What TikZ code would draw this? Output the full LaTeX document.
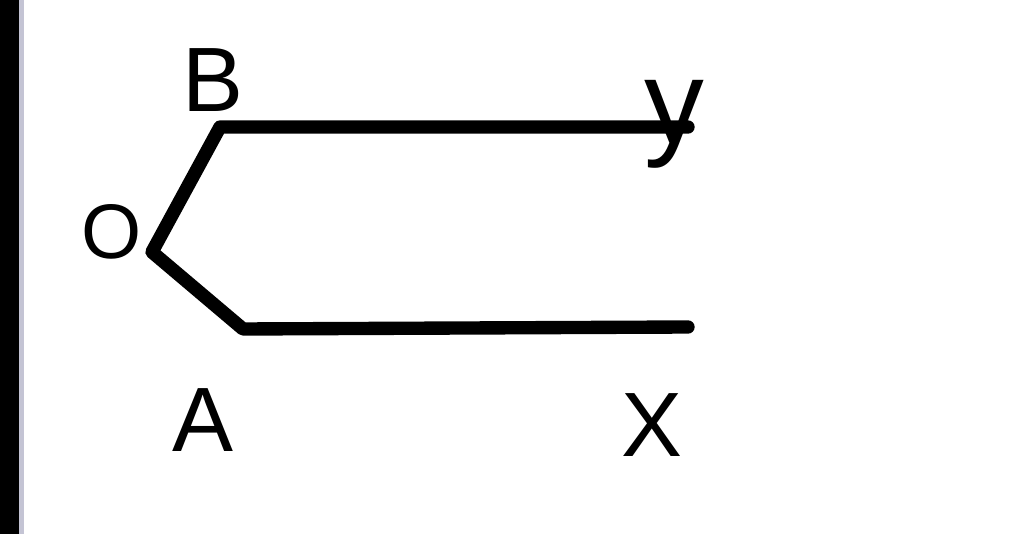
\documentclass[tikz,border=0pt]{standalone}
\usepackage{fontspec}
\setmainfont{Liberation Sans}
\begin{document}
\begin{tikzpicture}[x=0.01cm, y=-0.01cm]
    \tikzstyle{ray}=[line width=3.8pt, line cap=round, line join=round]
    \tikzstyle{lbl}=[font=\fontsize{26}{26}\selectfont, inner sep=0pt]

    \useasboundingbox (0,0) rectangle (1024,534);
    \fill [black] (0,0) rectangle (19,534);
    \fill [blue!15!gray!40] (19,0) rectangle (24,534);

    \coordinate (o) at (152,252);
    \coordinate (b) at (220,127);
    \coordinate (y) at (688,127);
    \coordinate (a) at (243,329);
    \coordinate (x) at (688,327);

    \draw [ray] (y) -- (b) -- (o) -- (a) -- (x);

    \node [lbl] (lb) at (213,80) {B};
    \node [lbl, font=\fontsize{22}{22}\selectfont] (lo) at (112,232) {O};
    \node [lbl] (la) at (203,420) {A};
    \node [lbl, font=\fontsize{34}{34}\selectfont] (ly) at (674,124) {y};
    \node [lbl] (lx) at (652,425) {X};
  \end{tikzpicture}
\end{document}
